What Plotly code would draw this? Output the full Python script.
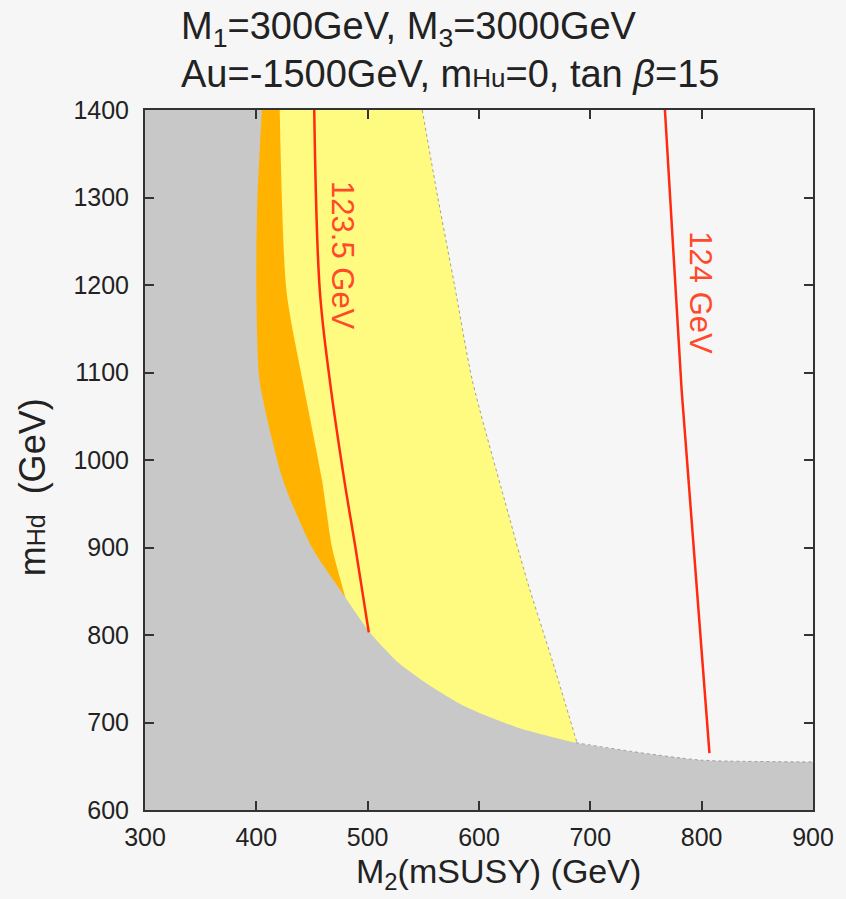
import plotly.graph_objects as go

# ---- data (GeV) ----
# upper edge of the grey (excluded) region, top -> bottom
gray_m2 = [405, 401, 400, 403, 424, 450, 480, 502, 528, 555, 588, 633, 687, 737, 800, 900]
gray_mhd = [1400, 1300, 1200, 1090, 977, 900, 843, 803, 768, 743, 718, 695, 677, 667, 657, 655]

# right edge of the yellow band (top -> bottom)
yellow_m2 = [549, 563, 578, 594, 623, 643, 666, 688]
yellow_mhd = [1400, 1300, 1200, 1091, 954, 863, 770, 677]

# right edge of the orange band (top -> bottom)
orange_m2 = [421, 427, 442, 459, 468, 480]
orange_mhd = [1400, 1194, 1088, 977, 900, 843]

# m_h contours
h1235_m2 = [452, 457, 466, 479, 489, 501]
h1235_mhd = [1400, 1194, 1091, 977, 900, 803]
h124_m2 = [767, 782, 807]
h124_mhd = [1400, 1080, 665]

x_range = [300, 900]
y_range = [600, 1400]
x_ticks = [300, 400, 500, 600, 700, 800, 900]
y_ticks = [600, 700, 800, 900, 1000, 1100, 1200, 1300, 1400]

GRAY = "#c8c8c8"
ORANGE = "#ffb300"
YELLOW = "#fffa80"
RED = "#ff2a10"
BG = "#f6f6f6"
TXT = "#222222"
FONT = "Liberation Sans, Arial, sans-serif"

fig = go.Figure()

# yellow band (region left of yellow edge; later covered by orange and grey)
fig.add_trace(go.Scatter(x=yellow_m2, y=yellow_mhd, fill="tozerox", fillcolor=YELLOW,
                         mode="lines",
                         line=dict(color="rgba(60,60,60,0.45)", width=1, dash="dot", shape="spline", smoothing=0.7),
                         hoverinfo="skip", showlegend=False))
# orange band
fig.add_trace(go.Scatter(x=orange_m2, y=orange_mhd, fill="tozerox", fillcolor=ORANGE,
                         mode="lines", line=dict(width=0, shape="spline", smoothing=0.7),
                         hoverinfo="skip", showlegend=False))
# grey excluded region: left of the boundary curve ...
fig.add_trace(go.Scatter(x=gray_m2, y=gray_mhd, fill="tozerox", fillcolor=GRAY,
                         mode="lines", line=dict(width=0, shape="spline", smoothing=0.6),
                         hoverinfo="skip", showlegend=False))
# ... and everything below its flat tail
fig.add_trace(go.Scatter(x=[x_range[0], x_range[1], x_range[1], x_range[0]],
                         y=[y_range[0], y_range[0], gray_mhd[-1], gray_mhd[-1]],
                         fill="toself", fillcolor=GRAY, mode="lines", line=dict(width=0),
                         hoverinfo="skip", showlegend=False))
n_y = gray_m2.index(687)
fig.add_trace(go.Scatter(x=gray_m2[n_y:], y=gray_mhd[n_y:], mode="lines",
                         line=dict(color="rgba(60,60,60,0.4)", width=1, dash="dot", shape="spline", smoothing=0.6),
                         hoverinfo="skip", showlegend=False))

# Higgs mass contours
fig.add_trace(go.Scatter(x=h1235_m2, y=h1235_mhd, mode="lines",
                         line=dict(color=RED, width=2.5, shape="spline"),
                         hoverinfo="skip", showlegend=False))
fig.add_trace(go.Scatter(x=h124_m2, y=h124_mhd, mode="lines", line=dict(color=RED, width=2.5),
                         hoverinfo="skip", showlegend=False))

label_font = dict(family=FONT, size=31, color="#ff4a2a")
fig.add_annotation(x=478, y=1234, text="123.5 GeV", textangle=90, showarrow=False, font=label_font)
fig.add_annotation(x=799, y=1191, text="124 GeV", textangle=90, showarrow=False, font=label_font)

# plot area in pixels: x 145..815, y 110..810
PW, PH = 670, 700


def px_x(p):
    return (p - 145) / PW


def px_y(p):
    return (810 - p) / PH


title_font = dict(family=FONT, size=38, color=TXT)
fig.add_annotation(xref="paper", yref="paper", x=px_x(179), y=px_y(29),
                   xanchor="left", yanchor="middle", showarrow=False, font=title_font,
                   text="M<sub>1</sub>=300GeV, M<sub>3</sub>=3000GeV")
fig.add_annotation(xref="paper", yref="paper", x=px_x(179), y=px_y(74),
                   xanchor="left", yanchor="middle", showarrow=False, font=title_font,
                   text="Au=-1500GeV, m<span style='font-size:26px'>Hu</span>=0, tan <i>β</i>=15")

# axis titles
fig.add_annotation(xref="paper", yref="paper", x=px_x(500), y=px_y(873),
                   xanchor="center", yanchor="middle", showarrow=False,
                   font=dict(family=FONT, size=34, color=TXT),
                   text="M<sub>2</sub>(mSUSY) (GeV)")
fig.add_annotation(xref="paper", yref="paper", x=px_x(32), y=px_y(487),
                   xanchor="center", yanchor="middle", showarrow=False, textangle=-90,
                   font=dict(family=FONT, size=36, color=TXT),
                   text="m<span style='font-size:25px'>Hd</span>  (GeV)")

tick_font = dict(family=FONT, size=25, color=TXT)
axis_common = dict(showgrid=False, zeroline=False, showline=True, linecolor="#333333", linewidth=2,
                   mirror="ticks", ticks="inside", ticklen=9, tickwidth=1.5, tickcolor="#333333",
                   tickfont=tick_font)

fig.update_xaxes(range=x_range, tickvals=x_ticks, ticktext=[str(v) for v in x_ticks],
                 ticklabelstandoff=4, **axis_common)
fig.update_yaxes(range=y_range, tickvals=y_ticks, ticktext=[str(v) for v in y_ticks],
                 ticklabelstandoff=9, **axis_common)

fig.update_layout(width=846, height=899, margin=dict(l=145, r=31, t=110, b=89),
                  paper_bgcolor=BG, plot_bgcolor=BG)

fig.write_html("out.html", config={"displayModeBar": False})

# remove the default page margin so the figure sits at the window origin
with open("out.html", encoding="utf-8") as f:
    html = f.read()
html = html.replace("<head>", "<head><style>html,body{margin:0;padding:0;background:%s;}</style>" % BG, 1)
with open("out.html", "w", encoding="utf-8") as f:
    f.write(html)
